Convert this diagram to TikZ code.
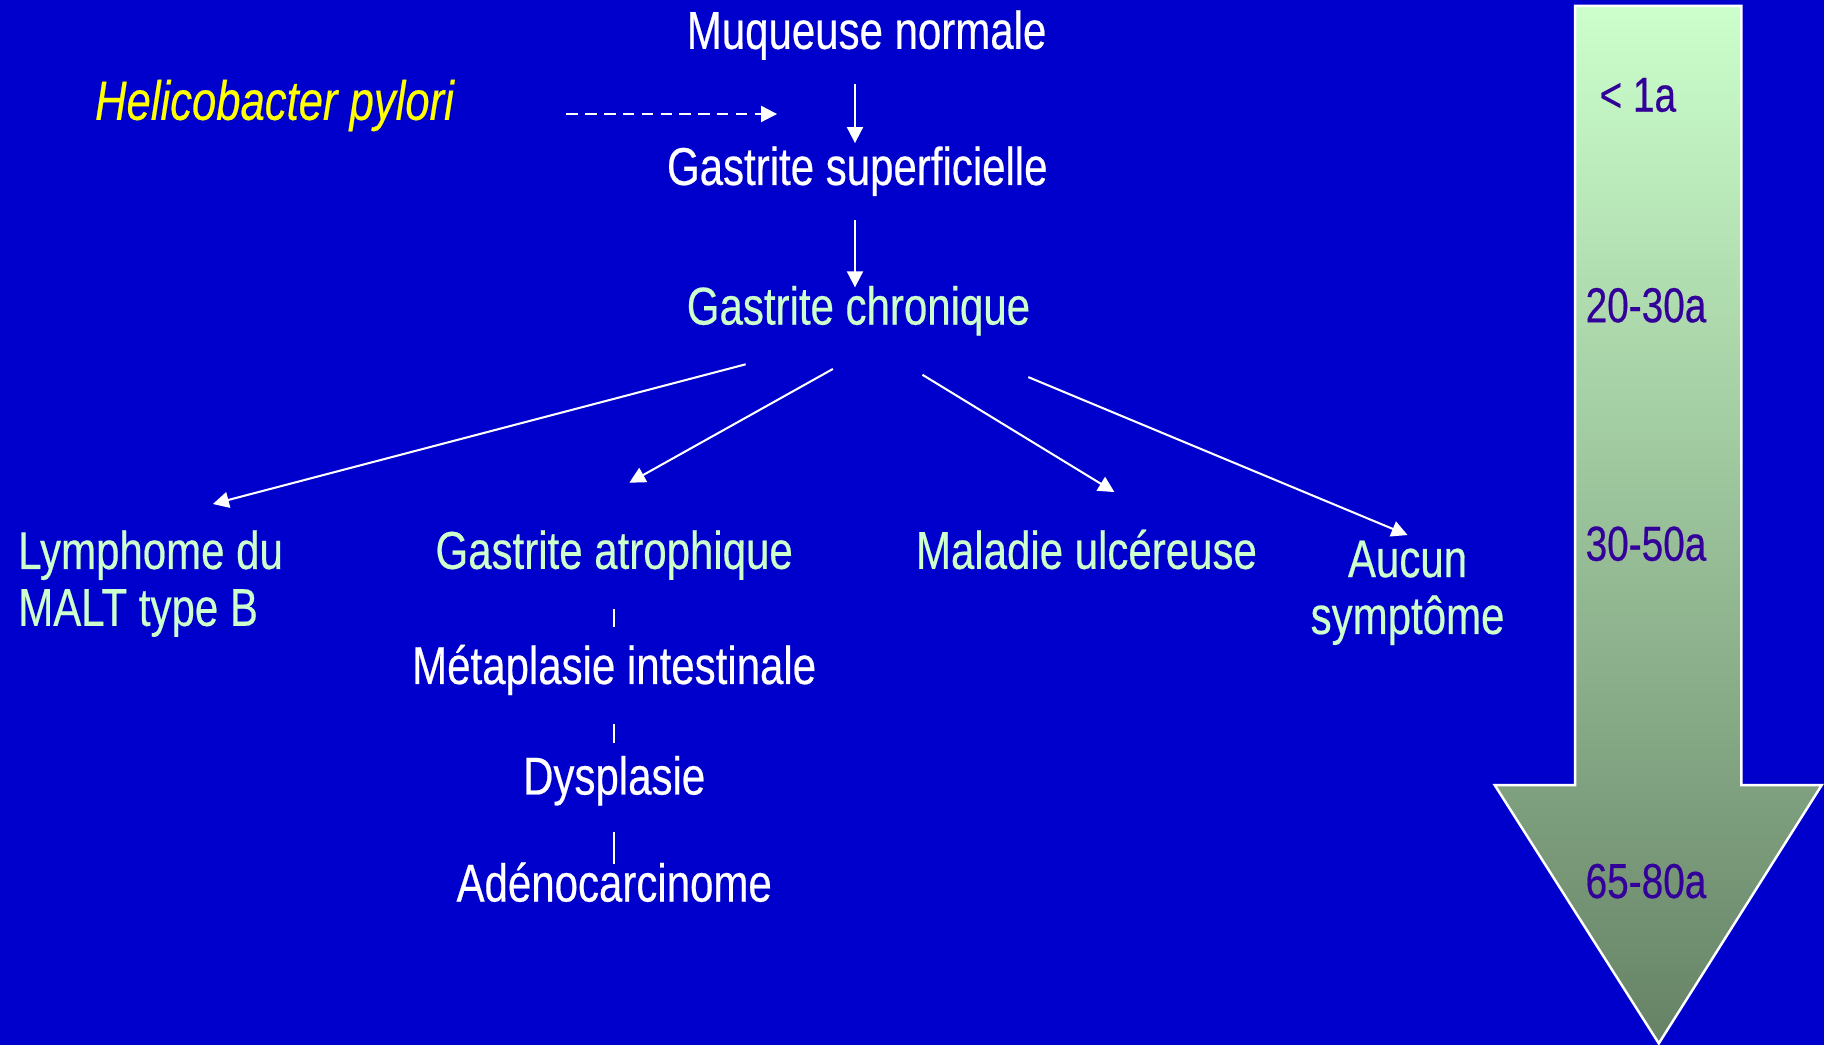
\documentclass[tikz,border=0pt]{standalone}
\usepackage{fontspec}
\setmainfont{Liberation Sans}[FakeStretch=0.79, FakeBold=0.4]
\usetikzlibrary{arrows.meta,calc}
\definecolor{bgblue}{HTML}{0000CC}
\definecolor{pale}{HTML}{CCFFCC}
\definecolor{darkgreen}{HTML}{668266}
\definecolor{agepurple}{HTML}{330099}
\definecolor{hpyellow}{HTML}{FFFF00}
\tikzset{
  txt/.style={inner sep=0pt, font=\fontsize{13}{13.9}\selectfont, text height=9.75pt, text depth=2.7pt, anchor=base},
  txtml/.style={inner sep=0pt, font=\fontsize{13}{13.9}\selectfont, anchor=base},
  age/.style={inner sep=0pt, font=\fontsize{12}{14}\selectfont, text=agepurple, anchor=base},
  arr/.style={white, line width=0.5pt, -{Triangle[length=3.9pt,width=3.9pt]}},
  tick/.style={white, line width=0.5pt},
}
\begin{document}
\begin{tikzpicture}[x=0.01cm, y=-0.01cm]
    \fill[bgblue] (0,0) rectangle (1568,898);
    \useasboundingbox (0,0) rectangle (1568,898);
    \draw[white, line width=0.6pt, top color=pale, bottom color=darkgreen]
        (1354,5) -- (1497,5) -- (1497,675) -- (1566,675) -- (1426,897) -- (1285,675) -- (1354,675) -- cycle;
    \node[age] (a1) at (1408,96) {< 1a};
    \node[age] (a2) at (1415,277) {20-30a};
    \node[age] (a3) at (1415,482) {30-50a};
    \node[age] (a4) at (1415,772) {65-80a};
    \node[txt, text=white] (muq) at (745,42) {Muqueuse normale};
    \node[txt, text=hpyellow, font=\fontsize{13.5}{14}\selectfont\itshape] (hp) at (236,103) {Helicobacter pylori};
    \node[txt, text=white] (sup) at (737,159) {Gastrite superficielle};
    \node[txt, text=pale] (chron) at (738,279) {Gastrite chronique};
    \node[txtml, text=pale, align=left, anchor=base west] (lymph) at (15,538) {Lymphome du\\MALT type B};
    \node[txt, text=pale] (atro) at (528,489) {Gastrite atrophique};
    \node[txt, text=white] (meta) at (528,588) {Métaplasie intestinale};
    \node[txt, text=white] (dysp) at (528,683) {Dysplasie};
    \node[txt, text=white] (adeno) at (528,775) {Adénocarcinome};
    \node[txt, text=pale] (ulc) at (934,489) {Maladie ulcéreuse};
    \node[txtml, text=pale, align=center] (aucun) at (1210,545) {Aucun\\symptôme};
    \coordinate (hpend) at (668,98);
    \draw[arr, dash pattern=on 2.8pt off 1.8pt] ($(hp.base east)+(96,-5)$) -- (hpend);
    \draw[arr] ($(muq.south)+(-10,20)$) -- ($(sup.north)+(-2,-1)$);
    \draw[arr] ($(sup.south)+(-2,20)$) -- ($(chron.north)+(-3,3)$);
    \draw[arr] ($(chron.south)+(-97,24)$) -- ($(lymph.north west)+(168,-22)$);
    \draw[arr] ($(chron.south)+(-22,28)$) -- ($(atro.north)+(13,-39)$);
    \draw[arr] ($(chron.south)+(55,33)$) -- ($(ulc.north)+(24,-31)$);
    \draw[arr] ($(chron.south)+(146,35)$) -- ($(aucun.north)+(0,-4)$);
    \draw[tick] ($(atro.south)+(0,24)$) -- ($(meta.north)+(0,-14)$);
    \draw[tick] ($(meta.south)+(0,24)$) -- ($(dysp.north)+(0,-9)$);
    \draw[tick] ($(dysp.south)+(0,22)$) -- ($(adeno.north)+(0,3)$);
\end{tikzpicture}
\end{document}
